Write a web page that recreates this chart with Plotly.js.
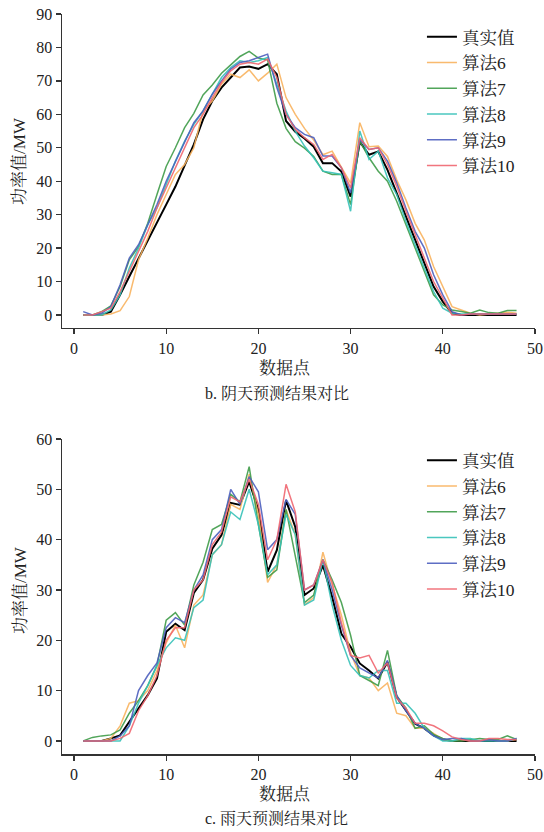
<!DOCTYPE html>
<html>
<head>
<meta charset="utf-8">
<script src="https://cdn.plot.ly/plotly-3.0.1.min.js"></script>
<style>html,body{margin:0;padding:0;background:#fff;}#chart{width:544px;height:832px;}</style>
</head>
<body>
<div id="chart"></div>
<script>
// x positions (data points)
const points = Array.from({length: 48}, (_, i) => i + 1);

const seriesNames = ['真实值', '算法6', '算法7', '算法8', '算法9', '算法10'];

// b. 阴天 (overcast)
const cloudyTrue = [0,0,0,1,6,11.5,17,22.5,27.5,33,38.4,44.5,51,58.5,64,68,71,74,74.3,73.6,75,72,58,54.8,52.8,50.3,45.4,45.4,42.9,35.4,51.8,47.9,48.9,43.4,36.4,29.4,22.4,15.5,8.5,4,0.5,0,0,0,0,0,0,0];
const cloudyAlg6 = [0,0,0,0.3,1.3,5.5,16.5,23,30,36,42,45,50,61,64,69,72,71,73.3,70,72.3,75,65,60,55.8,52.3,47.9,49,44.4,39.4,57.5,50.3,50.5,47.4,40.4,34.4,27.4,22.4,14.5,8.5,2.5,1.5,0.5,0,0.3,0.5,0.8,0.5];
const cloudyAlg7 = [0,0,1,2.7,8.5,16.5,20.4,27.4,36,44.4,50,56,60.3,65.8,68.8,72.3,74.8,77.3,78.8,76.8,76.3,63.3,55.8,51.8,49.9,47.4,43,42,42,33,52,47,43,40,34,27,20,13,6,3,1.5,1,0.5,1.5,0.7,0.5,1.3,1.3];
const cloudyAlg8 = [0,0,0,1.5,6,14,20,27,32,39,46,52,57,61,66,71,74,76,75.5,76,77,69,61,55,50.5,47,43,42.5,42,31,55,46.5,49,41,36,28,21,14,7,2,0.5,0.3,0.3,0.3,0.3,0.3,0.3,0.3];
const cloudyAlg9 = [1,0,0.5,2.5,9,17,21,27,33,40,46,52,57.5,61,66,70,73.5,75.5,76,77,78,68,60,56,54,53,47.5,47.5,44,36.5,52.5,49.5,50,46,39.5,32,25,20,12,6,1,0,0.3,0.3,0.3,0.3,0.3,0.3];
const cloudyAlg10 = [0,0,1,2,7,13,19,25,32,38,44,50,56,60,65,69.5,73,75,75.5,75,76.5,71,60,55.5,53,51,46.5,48,44,38,53,49.5,50,45,38.5,31,24,17,10,5,0,0,0.3,0.3,0.3,0.3,0.3,0.3];

// c. 雨天 (rainy)
const rainyTrue = [0,0,0,0.5,1.1,3.8,6.4,9.1,12.4,21.7,23.3,22,29.4,32,38.2,40.9,47.3,46.9,51.5,45.9,33.6,37.9,47.8,42.5,29,30.3,34.9,28.6,21.3,18.7,15.4,14,12.4,15.7,8.7,6.1,3.4,2.5,1.1,0.3,0,0,0,0,0,0,0,0];
const rainyAlg6 = [0,0,0,0.5,3,7.5,8,10,14,19.5,23,18.5,27,29,37,39,47,46,53,45,31.5,35,46,41,27,28.5,37.5,31,25,17.5,13,12.5,10,11.5,5.5,5,2.5,2.5,1.5,0.3,0,0.3,0,0,0.3,0,0,0.3];
const rainyAlg7 = [0,0.7,1,1.2,2.2,5.5,8,11,15,24,25.5,23,31,35.5,42,43,49,47.5,54.5,43,32.5,34,46,37,27.5,29,36,32,27.5,21,13,12,11,18,9,6.5,2.5,3,1.3,0.5,0,0,0.3,0.5,0.3,0.3,1,0.3];
const rainyAlg8 = [0,0,0,0,0,3,7.5,11,15,18.5,20.5,20,26.5,28,37,39,45.5,44,50,43,33,35,45,41,27,28,36,27,20,15,13,12.5,14,14,7.5,7.5,5.5,2.5,1,0,0,0.5,0.5,0,0,0,0,0.5];
const rainyAlg9 = [0,0,0,0,1,3,10,13,15.5,22.5,24.5,23.5,30,33,40,42,50,47,52.5,49.5,38,40,48,45,30,31,36,30,23,17,14.5,13.5,12.5,16,9,6,3.5,2.5,1,0.3,0.5,0.5,0,0,0.3,0,0,0.5];
const rainyAlg10 = [0,0,0,0,0.5,1.5,6,9,13,20,22.5,22.5,30,32,39,41.5,48.5,47.5,52,47,36,40,51,45.5,30,31,36,31.5,23.5,17,16.5,17,13.5,15.5,8.5,6.5,3.5,3.5,3,2,0.8,0.3,0,0,0.5,0.5,0.3,0.3];

const xTicks = [0, 10, 20, 30, 40, 50];

const colors = ['#000000', '#F8B25E', '#3E9B48', '#36C1B8', '#4C5EBE', '#EF6670'];
const widths = [2, 1.5, 1.5, 1.5, 1.5, 1.5];

const cloudy = [cloudyTrue, cloudyAlg6, cloudyAlg7, cloudyAlg8, cloudyAlg9, cloudyAlg10];
const rainy = [rainyTrue, rainyAlg6, rainyAlg7, rainyAlg8, rainyAlg9, rainyAlg10];

const traces = [];
[0,1,2,3,4,5].forEach(k => {
  traces.push({x: points, y: cloudy[k], type: 'scatter', mode: 'lines', name: seriesNames[k],
    line: {color: colors[k], width: widths[k]}, opacity: k === 0 ? 1 : 0.9,
    xaxis: 'x', yaxis: 'y', legend: 'legend', legendrank: k});
});
[0,1,2,3,4,5].forEach(k => {
  traces.push({x: points, y: rainy[k], type: 'scatter', mode: 'lines', name: seriesNames[k],
    line: {color: colors[k], width: widths[k]}, opacity: k === 0 ? 1 : 0.9,
    xaxis: 'x2', yaxis: 'y2', legend: 'legend2', legendrank: k});
});

const FONT = 'Liberation Serif, "Noto Serif CJK SC", "Noto Sans CJK SC", serif';
const axisCommon = {
  showline: true, linecolor: '#333', linewidth: 1.5, showgrid: false, zeroline: false,
  ticks: 'outside', ticklen: 5, tickwidth: 1.3, tickcolor: '#333',
  tickfont: {family: FONT, size: 16, color: '#222'}, mirror: false
};

const layout = {
  width: 544, height: 832,
  margin: {l: 62, r: 9, t: 14, b: 78},
  paper_bgcolor: '#fff', plot_bgcolor: '#fff',
  font: {family: FONT, color: '#222'},
  showlegend: true,
  xaxis: Object.assign({}, axisCommon, {domain: [0, 1], anchor: 'y', range: [-1.3, 50], tickvals: xTicks}),
  yaxis: Object.assign({}, axisCommon, {domain: [0.5757, 1], anchor: 'x', range: [-3.9, 90], dtick: 10, tick0: 0}),
  xaxis2: Object.assign({}, axisCommon, {domain: [0, 1], anchor: 'y2', range: [-1.3, 50], tickvals: xTicks}),
  yaxis2: Object.assign({}, axisCommon, {domain: [0, 0.4257], anchor: 'x2', range: [-2.6, 60], dtick: 10, tick0: 0}),
  legend: {x: 0.761, y: 0.9935, xanchor: 'left', yanchor: 'top', bgcolor: 'rgba(0,0,0,0)',
    font: {family: FONT, size: 17.5, color: '#222'}, tracegroupgap: 0, traceorder: 'normal'},
  legend2: {x: 0.761, y: 0.421, xanchor: 'left', yanchor: 'top', bgcolor: 'rgba(0,0,0,0)',
    font: {family: FONT, size: 17.5, color: '#222'}, tracegroupgap: 0, traceorder: 'normal'},
  annotations: [
    {text: '数据点', xref: 'paper', yref: 'paper', x: 0.4715, y: 0.5216, showarrow: false, xanchor: 'center', yanchor: 'middle', font: {family: FONT, size: 17, color: '#222'}},
    {text: 'b. 阴天预测结果对比', xref: 'paper', yref: 'paper', x: 0.4545, y: 0.4878, showarrow: false, xanchor: 'center', yanchor: 'middle', font: {family: FONT, size: 16, color: '#222'}},
    {text: '功率值/MW', xref: 'paper', yref: 'paper', x: -0.0888, y: 0.8014, textangle: -90, showarrow: false, xanchor: 'center', yanchor: 'middle', font: {family: FONT, size: 17, color: '#222'}},
    {text: '数据点', xref: 'paper', yref: 'paper', x: 0.4715, y: -0.0554, showarrow: false, xanchor: 'center', yanchor: 'middle', font: {family: FONT, size: 17, color: '#222'}},
    {text: 'c. 雨天预测结果对比', xref: 'paper', yref: 'paper', x: 0.4545, y: -0.0878, showarrow: false, xanchor: 'center', yanchor: 'middle', font: {family: FONT, size: 16, color: '#222'}},
    {text: '功率值/MW', xref: 'paper', yref: 'paper', x: -0.0888, y: 0.2216, textangle: -90, showarrow: false, xanchor: 'center', yanchor: 'middle', font: {family: FONT, size: 17, color: '#222'}}
  ]
};

Plotly.newPlot('chart', traces, layout, {staticPlot: true, displayModeBar: false});
</script>
</body>
</html>
